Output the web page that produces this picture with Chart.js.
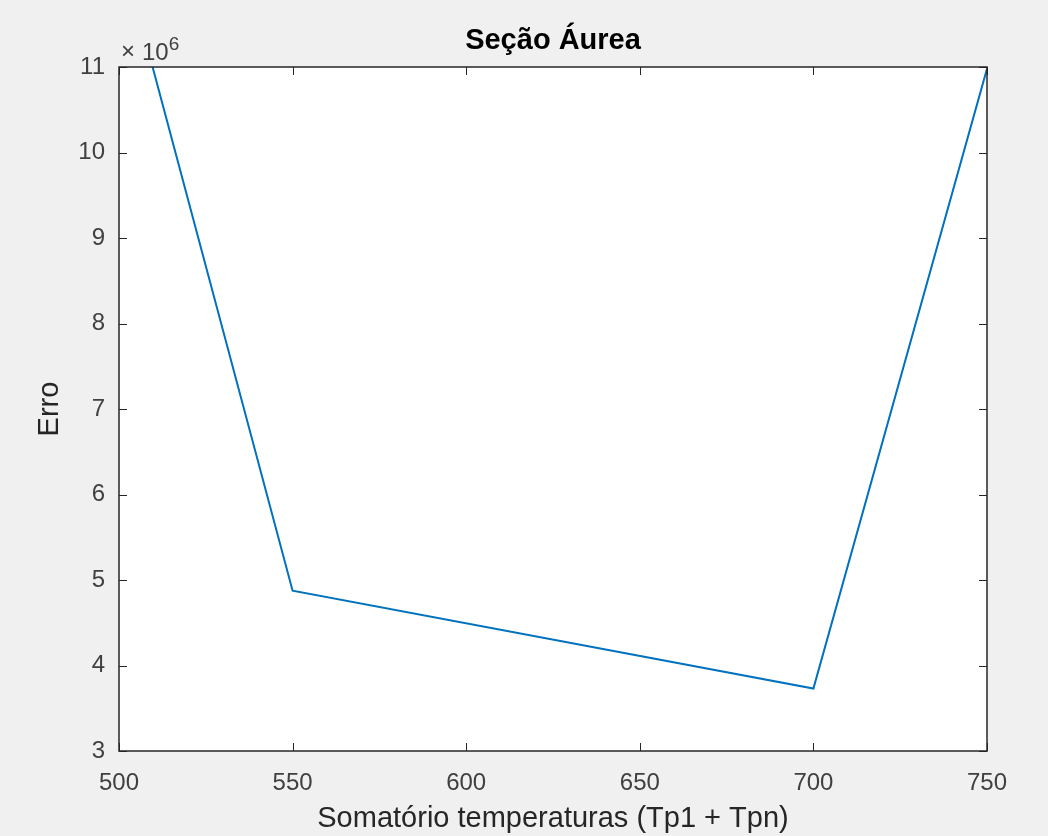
<!DOCTYPE html>
<html>
<head>
<meta charset="utf-8">
<title>Seção Áurea</title>
<script src="https://cdn.jsdelivr.net/npm/chart.js@4.4.0/dist/chart.umd.min.js"></script>
<style>
  body { margin: 0; background: #f0f0f0; }
  #wrap { width: 1048px; height: 836px; }
</style>
</head>
<body>
<div id="wrap"><canvas id="grafico" width="1048" height="836"></canvas></div>
<script>
// dados (x = soma das temperaturas, y = erro)
const somaTemperaturas = [500, 550, 700, 750];
const erros = [12.47e6, 4.875e6, 3.73e6, 10.98e6];
const ticksX = [500, 550, 600, 650, 700, 750];
const ticksY = [3, 4, 5, 6, 7, 8, 9, 10, 11]; // em unidades de 10^6

const corEixo = '#262626';
const fonte = '"Liberation Sans", Arial, Helvetica, sans-serif';

// fundo branco, moldura e marcas para dentro (estilo MATLAB)
const moldura = {
  id: 'moldura',
  beforeDraw(chart) {
    const { ctx, chartArea: a } = chart;
    ctx.save();
    ctx.fillStyle = '#ffffff';
    ctx.fillRect(a.left, a.top, a.right - a.left, a.bottom - a.top);
    ctx.restore();
  },
  afterDraw(chart) {
    const { ctx, chartArea: a, scales } = chart;
    const tam = 8; // tamanho das marcas
    ctx.save();
    ctx.strokeStyle = corEixo;
    ctx.lineWidth = 1;
    ctx.beginPath();
    ticksX.forEach(v => {
      const px = Math.round(scales.x.getPixelForValue(v)) + 0.5;
      ctx.moveTo(px, a.bottom); ctx.lineTo(px, a.bottom - tam);
      ctx.moveTo(px, a.top); ctx.lineTo(px, a.top + tam);
    });
    ticksY.forEach(v => {
      const py = Math.round(scales.y.getPixelForValue(v * 1e6)) + 0.5;
      ctx.moveTo(a.left, py); ctx.lineTo(a.left + tam, py);
      ctx.moveTo(a.right, py); ctx.lineTo(a.right - tam, py);
    });
    ctx.stroke();
    ctx.lineWidth = 1.5;
    ctx.strokeRect(a.left, a.top, a.right - a.left, a.bottom - a.top);

    // multiplicador do eixo y (x10^6)
    ctx.fillStyle = '#404040';
    ctx.textBaseline = 'alphabetic';
    ctx.textAlign = 'left';
    ctx.font = '24px ' + fonte;
    ctx.fillText('\u00d7', a.left + 2, a.top - 8);
    ctx.fillText('10', a.left + 23, a.top - 7);
    const w = ctx.measureText('10').width;
    ctx.font = '19px ' + fonte;
    ctx.fillText('6', a.left + 23 + w, a.top - 17);
    ctx.restore();
  }
};

const ctx = document.getElementById('grafico').getContext('2d');
new Chart(ctx, {
  type: 'line',
  data: {
    datasets: [{
      label: 'Erro',
      data: somaTemperaturas.map((x, i) => ({ x: x, y: erros[i] })),
      borderColor: '#0072BD',
      borderWidth: 2,
      pointRadius: 0,
      fill: false,
      tension: 0
    }]
  },
  options: {
    responsive: false,
    animation: false,
    layout: { padding: { left: 0, right: 61, top: 0, bottom: 0 } },
    plugins: {
      legend: { display: false },
      tooltip: { enabled: false },
      title: {
        display: true,
        fullSize: false, // centraliza sobre a área do gráfico
        text: 'Seção Áurea',
        color: '#000000',
        font: { family: fonte, size: 29, weight: 'bold' },
        padding: { top: 24, bottom: 8.2 }
      }
    },
    scales: {
      x: {
        type: 'linear',
        min: 500,
        max: 750,
        afterFit: s => { s.height = 85; },
        afterBuildTicks: s => { s.ticks = ticksX.map(v => ({ value: v })); },
        grid: { display: false, drawTicks: false },
        border: { display: false },
        ticks: {
          color: '#404040',
          font: { family: fonte, size: 24 },
          padding: 18,
          maxRotation: 0,
          autoSkip: false
        },
        title: {
          display: true,
          text: 'Somatório temperaturas (Tp1 + Tpn)',
          color: corEixo,
          font: { family: fonte, size: 29 },
          padding: { top: 0, bottom: 0 }
        }
      },
      y: {
        min: 3e6,
        max: 11e6,
        afterFit: s => { s.width = 119; },
        afterBuildTicks: s => { s.ticks = ticksY.map(v => ({ value: v * 1e6 })); },
        grid: { display: false, drawTicks: false },
        border: { display: false },
        ticks: {
          color: '#404040',
          font: { family: fonte, size: 24 },
          padding: 14,
          callback: v => String(v / 1e6)
        },
        title: {
          display: true,
          text: 'Erro',
          color: corEixo,
          font: { family: fonte, size: 29 },
          padding: { top: 33, bottom: 0 }
        }
      }
    }
  },
  plugins: [moldura]
});
</script>
</body>
</html>
